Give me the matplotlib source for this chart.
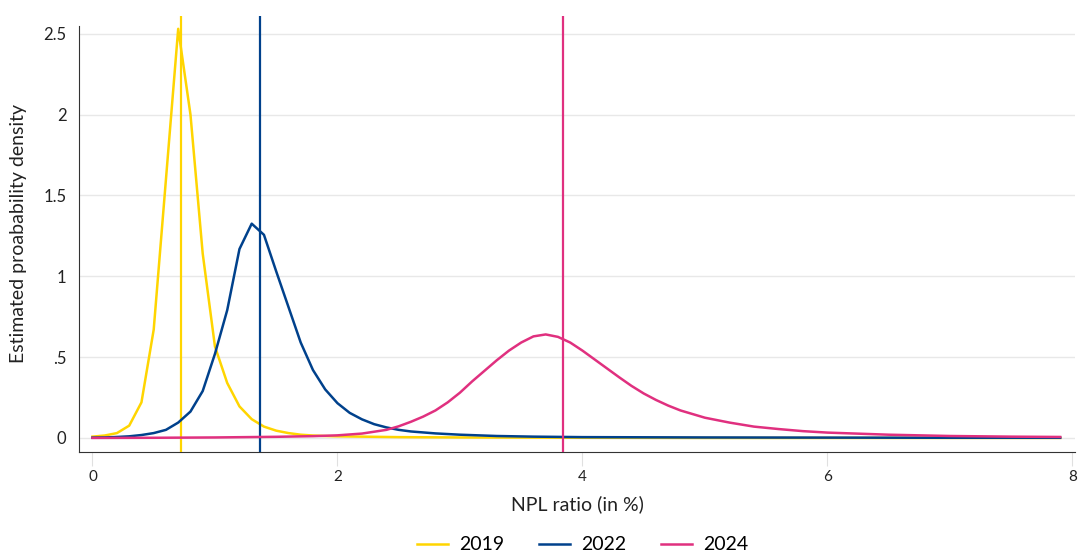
import matplotlib
matplotlib.use("Agg")
import matplotlib.pyplot as plt

# values
x_2019 = [0, 0.1, 0.2, 0.3, 0.4, 0.5, 0.6, 0.7, 0.8, 0.9, 1.0, 1.1, 1.2, 1.3, 1.4, 1.5, 1.6, 1.7, 1.8, 1.9, 2.0,
          2.5, 3.0, 4.0, 5.0, 6.0, 7.0, 7.9]
y_2019 = [0.008, 0.015, 0.03, 0.076, 0.22, 0.67, 1.6, 2.53, 2.0, 1.14, 0.565, 0.34, 0.195, 0.116, 0.07, 0.045,
          0.03, 0.02, 0.015, 0.012, 0.01, 0.005, 0.003, 0.001, 0, 0, 0, 0]

x_2022 = [0, 0.1, 0.2, 0.3, 0.4, 0.5, 0.6, 0.7, 0.8, 0.9, 1.0, 1.1, 1.2, 1.3, 1.4, 1.5, 1.6, 1.7, 1.8, 1.9, 2.0,
          2.1, 2.2, 2.3, 2.4, 2.5, 2.6, 2.8, 3.0, 3.3, 3.6, 4.0, 5.0, 6.0, 7.0, 7.9]
y_2022 = [0.002, 0.003, 0.006, 0.01, 0.018, 0.03, 0.05, 0.095, 0.163, 0.29, 0.52, 0.79, 1.168, 1.325, 1.256,
          1.03, 0.81, 0.59, 0.42, 0.3, 0.215, 0.155, 0.115, 0.085, 0.065, 0.05, 0.04, 0.028, 0.02, 0.012, 0.008,
          0.005, 0.003, 0.002, 0.001, 0.001]

x_2024 = [0, 0.5, 1.0, 1.5, 1.8, 2.0, 2.2, 2.4, 2.5, 2.6, 2.7, 2.8, 2.9, 3.0, 3.1, 3.2, 3.3, 3.4, 3.5, 3.6,
          3.7, 3.8, 3.9, 4.0, 4.1, 4.2, 4.3, 4.4, 4.5, 4.6, 4.7, 4.8, 5.0, 5.2, 5.4, 5.6, 5.8, 6.0, 6.5, 7.0,
          7.5, 7.9]
y_2024 = [0.0, 0.001, 0.003, 0.007, 0.011, 0.016, 0.027, 0.05, 0.072, 0.1, 0.132, 0.17, 0.22, 0.28, 0.35,
          0.415, 0.48, 0.54, 0.59, 0.628, 0.64, 0.625, 0.59, 0.54, 0.485, 0.43, 0.375, 0.322, 0.275, 0.235,
          0.2, 0.17, 0.125, 0.095, 0.07, 0.055, 0.042, 0.033, 0.02, 0.012, 0.008, 0.006]

medians = {"2019": 0.72, "2022": 1.37, "2024": 3.84}
colors = {"2019": "#FFD500", "2022": "#00418C", "2024": "#E0307F"}

plt.rcParams["font.family"] = ["Lato", "DejaVu Sans"]

fig = plt.figure(figsize=(10.79, 5.57), dpi=100)
ax = fig.add_axes([0.0732, 0.1885, 0.923, 0.783])

for year, xs, ys in [("2019", x_2019, y_2019), ("2022", x_2022, y_2022), ("2024", x_2024, y_2024)]:
    ax.plot(xs, ys, color=colors[year], lw=1.8, label=year, zorder=3)
    ax.axvline(medians[year], color=colors[year], lw=1.6, zorder=3)

ax.set_xlim(-0.11, 8.02)
ax.set_ylim(-0.087, 2.61)
ax.set_xticks([0, 2, 4, 6, 8])
ax.set_xticklabels(["0", "2", "4", "6", "8"])
ax.set_yticks([0, 0.5, 1, 1.5, 2, 2.5])
ax.set_yticklabels(["0", ".5", "1", "1.5", "2", "2.5"])
ax.grid(axis="y", color="#e8e8e8", lw=1)
ax.set_axisbelow(True)

for s in ["top", "right"]:
    ax.spines[s].set_visible(False)
ax.spines["left"].set_bounds(-0.087, 2.55)
ax.spines["left"].set_color("#333333")
ax.spines["bottom"].set_color("#333333")
ax.tick_params(axis="x", length=10, color="#e0e0e0", pad=3, labelsize=11, labelcolor="#222222")
ax.tick_params(axis="y", length=0, pad=9, labelsize=12, labelcolor="#222222")

ax.set_xlabel("NPL ratio (in %)", fontsize=14, color="#222222", labelpad=8)
ax.set_ylabel("Estimated proabability density", fontsize=14, color="#222222", labelpad=12)

fig.legend(loc="lower center", bbox_to_anchor=(0.54, -0.025), ncol=3, frameon=False, fontsize=14,
           handlelength=1.6, columnspacing=1.8, handletextpad=0.55)

fig.savefig("out.png", dpi=100)
